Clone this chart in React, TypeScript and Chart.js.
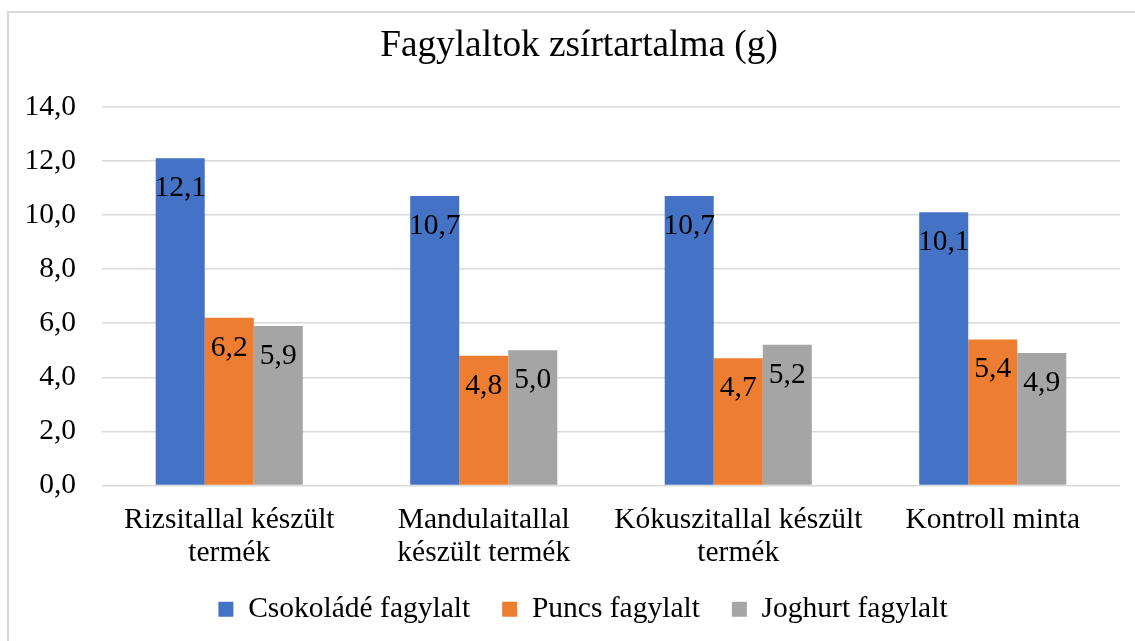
import { useEffect, useRef } from "react";
import { Chart, registerables } from "chart.js";

Chart.register(...registerables);

const categories: (string | string[])[] = [
  ["Rizsitallal készült", "termék"],
  ["Mandulaitallal", "készült termék"],
  ["Kókuszitallal készült", "termék"],
  "Kontroll minta",
];
const seriesNames = ["Csokoládé fagylalt", "Puncs fagylalt", "Joghurt fagylalt"];
const chocolateValues = [12.1, 10.7, 10.7, 10.1];
const punchValues = [6.2, 4.8, 4.7, 5.4];
const yogurtValues = [5.9, 5.0, 5.2, 4.9];
const seriesColors = ["#4472C4", "#ED7D31", "#A5A5A5"];
const yMin = 0;
const yMax = 14;
const yStep = 2;
const titleText = "Fagylaltok zsírtartalma (g)";

const FONT = "'Liberation Serif', 'Times New Roman', serif";
const FS = 29.5;
const fmt = (v: number) => v.toFixed(1).replace(".", ",");

const CANVAS_W = 1135;
const CANVAS_H = 652;

const valueLabels = {
  id: "valueLabels",
  afterDatasetsDraw(chart: any) {
    const ctx = chart.ctx;
    ctx.save();
    ctx.font = `${FS}px ${FONT}`;
    ctx.fillStyle = "#000";
    ctx.textAlign = "center";
    ctx.textBaseline = "alphabetic";
    chart.data.datasets.forEach((ds: any, di: number) => {
      const meta = chart.getDatasetMeta(di);
      meta.data.forEach((el: any, i: number) => {
        ctx.fillText(fmt(ds.data[i]), el.x, el.y + 38);
      });
    });
    ctx.restore();
  },
};

// place title and legend blocks like the reference
const blockShift = {
  id: "blockShift",
  afterLayout(chart: any) {
    if (chart.legend) {
      chart.legend.left += 23;
      chart.legend.right += 23;
      chart.legend.top -= 18;
      chart.legend.bottom -= 18;
    }
    if (chart.titleBlock) {
      chart.titleBlock.left += 19;
      chart.titleBlock.right += 19;
    }
  },
};

export default function App() {
  const ref = useRef<HTMLCanvasElement>(null);
  useEffect(() => {
    if (!ref.current) return;
    const datasets = [chocolateValues, punchValues, yogurtValues].map((d, i) => ({
      label: seriesNames[i],
      data: d,
      backgroundColor: seriesColors[i],
      borderWidth: 0,
      barPercentage: 1,
      categoryPercentage: 0.578,
    }));
    const chart = new Chart(ref.current, {
      type: "bar",
      data: { labels: categories, datasets },
      plugins: [valueLabels, blockShift],
      options: {
        animation: false,
        responsive: false,
        devicePixelRatio: 1,
        layout: { padding: { left: 0, right: 15, top: 0, bottom: 0 } },
        plugins: {
          title: {
            display: true,
            text: titleText,
            color: "#000",
            font: { family: FONT, size: 37.3, weight: "normal", lineHeight: 1.2 },
            padding: { top: 24, bottom: 38 },
          },
          legend: {
            display: true,
            position: "bottom",
            labels: {
              color: "#000",
              font: { family: FONT, size: FS },
              boxWidth: 15,
              boxHeight: 15,
              padding: 32,
            },
          },
          tooltip: { enabled: false },
        },
        scales: {
          x: {
            grid: { display: false },
            border: { display: false },
            ticks: {
              color: "#000",
              font: { family: FONT, size: FS, lineHeight: 1.12 },
              padding: 10,
              maxRotation: 0,
              autoSkip: false,
            },
            afterFit(scale: any) {
              scale.height = 95;
            },
          },
          y: {
            min: yMin,
            max: yMax,
            grid: { color: "#d9d9d9", lineWidth: 1.5, drawTicks: false },
            border: { display: false },
            ticks: {
              stepSize: yStep,
              color: "#000",
              font: { family: FONT, size: FS },
              padding: 26,
              callback: (v: any) => fmt(Number(v)),
            },
            afterFit(scale: any) {
              scale.width = 102;
            },
          },
        },
      },
    });
    return () => chart.destroy();
  }, []);

  return (
    <div
      style={{
        position: "fixed",
        left: 0,
        top: 0,
        width: 1135,
        height: 641,
        overflow: "hidden",
        background: "#fff",
      }}
    >
      <canvas
        ref={ref}
        width={CANVAS_W}
        height={CANVAS_H}
        style={{ position: "absolute", left: 0, top: 0, width: CANVAS_W, height: CANVAS_H }}
      />
      <div
        style={{
          position: "absolute",
          left: 7,
          top: 11,
          width: 2000,
          height: 2000,
          borderTop: "2px solid #d9d9d9",
          borderLeft: "2px solid #d9d9d9",
          pointerEvents: "none",
        }}
      />
    </div>
  );
}
